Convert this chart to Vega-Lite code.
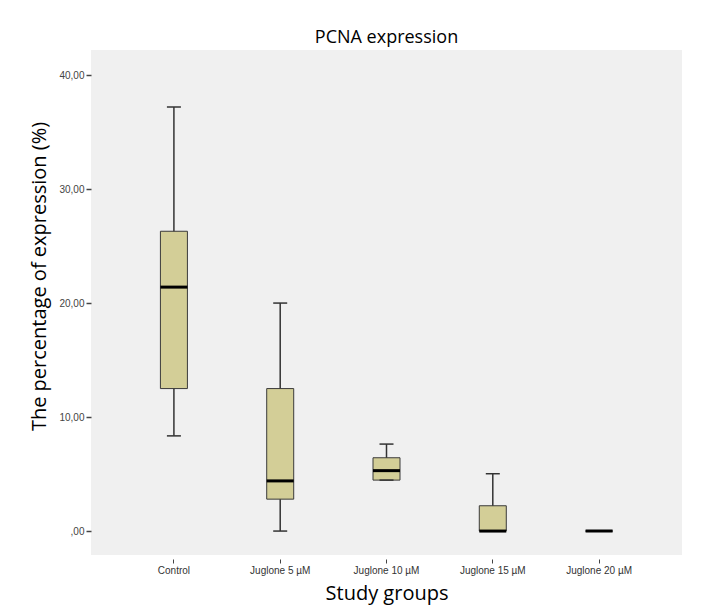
{
  "$schema": "https://vega.github.io/schema/vega-lite/v6.json",
  "width": 591,
  "height": 505,
  "autosize": {"type": "none"},
  "padding": {"left": 91, "top": 50, "right": 19, "bottom": 60},
  "background": "white",
  "title": {
    "text": "PCNA expression",
    "font": "Open Sans",
    "fontSize": 18,
    "fontWeight": "normal",
    "color": "#000000",
    "anchor": "middle",
    "baseline": "alphabetic",
    "offset": 7,
    "dy": 18
  },
  "data": {
    "values": [
      {"group": "Control", "lower": 8.35, "q1": 12.5, "median": 21.4, "q3": 26.3, "upper": 37.2},
      {"group": "Juglone 5 µM", "lower": 0, "q1": 2.8, "median": 4.4, "q3": 12.5, "upper": 20.0},
      {"group": "Juglone 10 µM", "lower": 4.47, "q1": 4.47, "median": 5.3, "q3": 6.43, "upper": 7.63},
      {"group": "Juglone 15 µM", "lower": 0, "q1": 0, "median": 0, "q3": 2.22, "upper": 5.03},
      {"group": "Juglone 20 µM", "lower": 0, "q1": 0, "median": 0, "q3": 0, "upper": 0}
    ]
  },
  "encoding": {
    "x": {
      "field": "group",
      "type": "nominal",
      "sort": null,
      "title": "Study groups",
      "scale": {"paddingInner": 0, "paddingOuter": 0.28},
      "axis": {
        "labelAngle": 0,
        "labelFont": "Liberation Sans",
        "labelFontSize": 10,
        "labelColor": "#333333",
        "labelPadding": 2,
        "tickSize": 4,
        "tickColor": "#444444",
        "offset": 4,
        "domain": false,
        "grid": false,
        "titleFont": "Open Sans",
        "titleFontSize": 20,
        "titleFontWeight": "normal",
        "titleColor": "#000000",
        "titlePadding": 8
      }
    }
  },
  "layer": [
    {
      "mark": {"type": "rule", "color": "#333333", "strokeWidth": 1.5, "opacity": 1},
      "encoding": {
        "y": {
          "field": "lower",
          "type": "quantitative",
          "title": "The percentage of expression (%)",
          "scale": {"domain": [-2.1, 42.2], "nice": false, "zero": false},
          "axis": {
            "values": [0, 10, 20, 30, 40],
            "labelExpr": "datum.value == 0 ? ',00' : replace(format(datum.value, '.2f'), '.', ',')",
            "labelFont": "Liberation Sans",
            "labelFontSize": 10,
            "labelColor": "#444444",
            "labelPadding": 2,
            "tickSize": 5,
            "tickWidth": 1.5,
            "tickColor": "#444444",
            "domain": false,
            "grid": false,
            "titleFont": "Open Sans",
            "titleFontSize": 20,
            "titleFontWeight": "normal",
            "titleColor": "#000000",
            "titleAngle": 270,
            "titleAlign": "center",
            "titleBaseline": "alphabetic",
            "titleX": -46,
            "titleY": 226
          }
        },
        "y2": {"field": "upper"}
      }
    },
    {
      "mark": {"type": "bar", "size": 27, "fill": "#d3ce97", "stroke": "#3a3a3a", "strokeWidth": 1, "opacity": 1},
      "encoding": {
        "y": {"field": "q1", "type": "quantitative", "title": "The percentage of expression (%)", "scale": {"domain": [-2.1, 42.2], "nice": false, "zero": false}},
        "y2": {"field": "q3"}
      }
    },
    {
      "mark": {"type": "tick", "size": 14, "thickness": 1.5, "color": "#333333", "opacity": 1},
      "encoding": {
        "y": {"field": "lower", "type": "quantitative", "title": "The percentage of expression (%)", "scale": {"domain": [-2.1, 42.2], "nice": false, "zero": false}}
      }
    },
    {
      "mark": {"type": "tick", "size": 14, "thickness": 1.5, "color": "#333333", "opacity": 1},
      "encoding": {
        "y": {"field": "upper", "type": "quantitative", "title": "The percentage of expression (%)", "scale": {"domain": [-2.1, 42.2], "nice": false, "zero": false}}
      }
    },
    {
      "mark": {"type": "tick", "size": 27, "thickness": 3, "color": "#000000", "opacity": 1},
      "encoding": {
        "y": {"field": "median", "type": "quantitative", "title": "The percentage of expression (%)", "scale": {"domain": [-2.1, 42.2], "nice": false, "zero": false}}
      }
    }
  ],
  "config": {
    "view": {"fill": "#f0f0f0", "stroke": null}
  }
}
